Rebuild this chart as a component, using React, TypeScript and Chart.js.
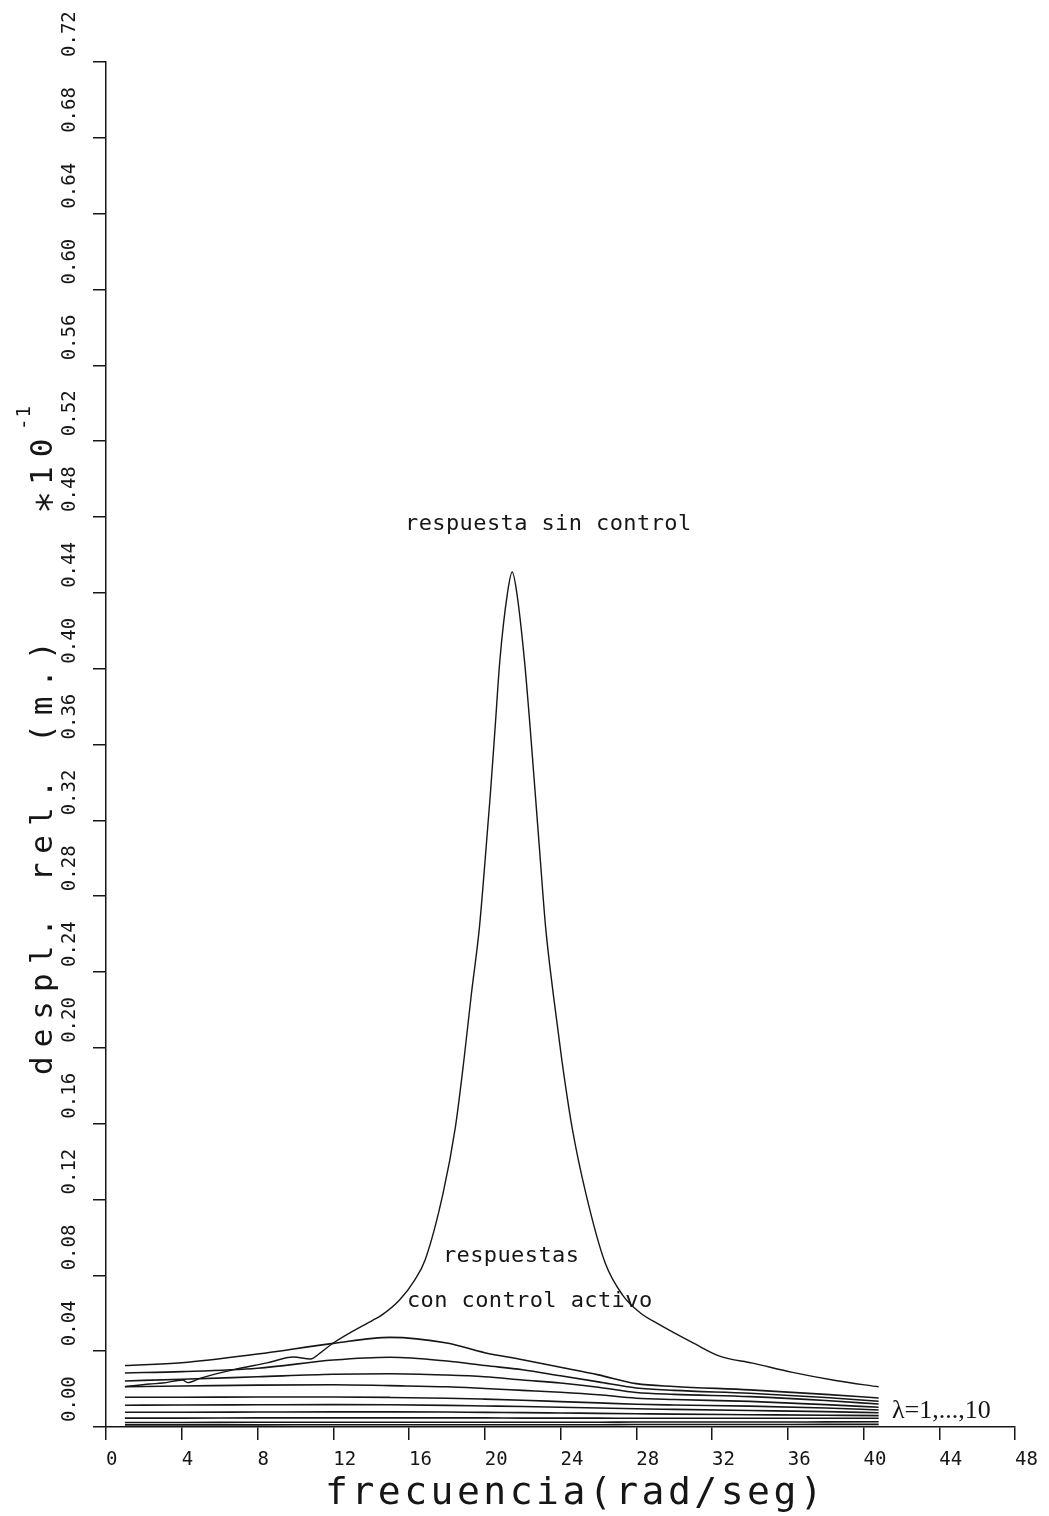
import { useEffect, useRef } from 'react';
import { Chart, registerables } from 'chart.js';

Chart.register(...registerables);

// Frequency response without control (rad/s vs relative displacement, x10^-1 m)
const freqSinControl = [
  1.0, 2.3, 3.0, 4.05, 4.3, 5.0, 6.7, 8.5, 9.9, 10.8, 11.3, 12.0, 14.1, 14.5, 15.5, 16.3,
  16.85, 17.8, 18.45, 18.9, 19.3, 19.72, 20.02, 20.3, 20.55, 20.8, 21.2, 21.45, 21.7, 22.1,
  22.4, 22.67, 22.94, 23.22, 23.62, 24.08, 24.62, 25.35, 26.35, 27.3, 28.2, 29.25, 31.0,
  32.4, 34.15, 36.25, 38.6, 40.8,
];
const despSinControl = [
  0.0213, 0.0227, 0.0232, 0.0248, 0.0234, 0.0258, 0.0301, 0.0338, 0.0369, 0.0359, 0.039,
  0.0443, 0.0564, 0.0586, 0.067, 0.0775, 0.0881, 0.1234, 0.1582, 0.1936, 0.2289, 0.2637,
  0.2991, 0.3344, 0.3692, 0.4046, 0.4399, 0.451, 0.4395, 0.404, 0.3685, 0.3337, 0.2984,
  0.263, 0.2282, 0.1929, 0.1575, 0.1227, 0.0868, 0.0693, 0.0603, 0.0539, 0.0444, 0.0374,
  0.0337, 0.0288, 0.0244, 0.0212,
];

// Responses with active control, one curve per weighting factor lambda = 1..10
const freqControl = [1, 4, 8, 12, 15, 18, 20, 22, 24, 26, 28, 30, 34, 38, 40.8];
const despLambda1 = [0.0324, 0.0339, 0.0385, 0.0441, 0.0473, 0.0443, 0.0392, 0.0355, 0.0315, 0.0275, 0.0229, 0.0214, 0.0196, 0.0172, 0.0153];
const despLambda2 = [0.0285, 0.0292, 0.031, 0.0353, 0.0368, 0.0348, 0.0324, 0.0302, 0.027, 0.0238, 0.0206, 0.0193, 0.0178, 0.0156, 0.0136];
const despLambda3 = [0.0243, 0.0252, 0.0265, 0.0278, 0.0281, 0.0274, 0.0265, 0.0248, 0.0232, 0.021, 0.0182, 0.0172, 0.016, 0.014, 0.0121];
const despLambda4 = [0.0213, 0.0216, 0.0221, 0.0223, 0.0218, 0.0212, 0.0203, 0.0193, 0.0183, 0.017, 0.0152, 0.0145, 0.0135, 0.0118, 0.0104];
const despLambda5 = [0.0157, 0.0157, 0.0158, 0.0158, 0.0156, 0.0152, 0.0147, 0.0141, 0.0134, 0.0127, 0.012, 0.0116, 0.011, 0.01, 0.009];
const despLambda6 = [0.0115, 0.0116, 0.0117, 0.0118, 0.0117, 0.0114, 0.0111, 0.0108, 0.0104, 0.01, 0.0096, 0.0093, 0.0087, 0.0081, 0.0075];
const despLambda7 = [0.0078, 0.0078, 0.0079, 0.008, 0.008, 0.0079, 0.0077, 0.0076, 0.0074, 0.0072, 0.007, 0.0068, 0.0065, 0.0062, 0.006];
const despLambda8 = [0.0047, 0.0047, 0.0048, 0.0048, 0.0048, 0.0048, 0.0048, 0.0047, 0.0047, 0.0047, 0.0046, 0.0046, 0.0046, 0.0046, 0.0046];
const despLambda9 = [0.0024, 0.0024, 0.0025, 0.0025, 0.0025, 0.0025, 0.0025, 0.0025, 0.0025, 0.0025, 0.0026, 0.0026, 0.0026, 0.0027, 0.0028];
const despLambda10 = [0.0011, 0.0011, 0.0011, 0.0012, 0.0012, 0.0012, 0.0012, 0.0012, 0.0012, 0.0012, 0.0013, 0.0013, 0.0013, 0.0014, 0.0014];

const controlledSeries = [
  despLambda1, despLambda2, despLambda3, despLambda4, despLambda5,
  despLambda6, despLambda7, despLambda8, despLambda9, despLambda10,
];

// Axis ranges and tick steps
const xRange = [0, 48];
const xStep = 4;
const yRange = [0, 0.72];
const yStep = 0.04;

// Text labels
const xTitle = 'frecuencia(rad/seg)';
const yTitle = 'despl. rel. (m.)';
const yTitleFactor = '10';
const yTitleExponent = '-1';
const labelSinControl = 'respuesta sin control';
const labelCon1 = 'respuestas';
const labelCon2 = 'con control activo';
const labelLambda = 'λ=1,...,10';

const INK = '#161616';
const MONO = '"DejaVu Sans Mono", "Liberation Mono", monospace';

const toPoints = (xs: number[], ys: number[]) => xs.map((x, i) => ({ x, y: ys[i] }));

const plotterText = {
  id: 'plotterText',
  afterDraw(chart: any) {
    const { ctx, scales } = chart;
    const xs = scales.x;
    const ys = scales.y;
    ctx.save();
    ctx.fillStyle = INK;

    // vertical tick labels on the y axis, reading upward
    ctx.font = `19px ${MONO}`;
    ctx.textAlign = 'left';
    ctx.textBaseline = 'middle';
    for (const t of ys.ticks) {
      const py = ys.getPixelForValue(t.value);
      ctx.save();
      ctx.translate(70, py - 5);
      ctx.rotate(-Math.PI / 2);
      ctx.fillText(Number(t.value).toFixed(2), 0, 0);
      ctx.restore();
    }

    // y axis title
    ctx.save();
    ctx.translate(52, 1075);
    ctx.rotate(-Math.PI / 2);
    ctx.textBaseline = 'alphabetic';
    ctx.font = `31px ${MONO}`;
    (ctx as any).letterSpacing = '9px';
    ctx.fillText(yTitle, 0, 0);
    ctx.fillText(yTitleFactor, 590, 0);
    (ctx as any).letterSpacing = '0px';
    ctx.font = `38px ${MONO}`;
    ctx.textAlign = 'center';
    ctx.fillText('∗', 573, 4);
    ctx.font = `19px ${MONO}`;
    ctx.textAlign = 'left';
    (ctx as any).letterSpacing = '1px';
    ctx.fillText(yTitleExponent, 645, -22);
    ctx.restore();

    // x axis title
    ctx.save();
    ctx.font = `38px ${MONO}`;
    (ctx as any).letterSpacing = '3.5px';
    ctx.textAlign = 'left';
    ctx.textBaseline = 'alphabetic';
    ctx.fillText(xTitle, 325, 1504);
    ctx.restore();

    // curve annotations
    ctx.save();
    ctx.font = `22px ${MONO}`;
    (ctx as any).letterSpacing = '0.4px';
    ctx.textAlign = 'left';
    ctx.textBaseline = 'alphabetic';
    ctx.fillText(labelSinControl, xs.getPixelForValue(15.79), ys.getPixelForValue(0.4731));
    ctx.fillText(labelCon1, xs.getPixelForValue(17.79), ys.getPixelForValue(0.087));
    ctx.fillText(labelCon2, xs.getPixelForValue(15.89), ys.getPixelForValue(0.0633));
    (ctx as any).letterSpacing = '0px';
    ctx.font = `26px "Liberation Serif", serif`;
    ctx.fillText(labelLambda, xs.getPixelForValue(41.5), ys.getPixelForValue(0.0047));
    ctx.restore();

    ctx.restore();
  },
};

export default function App() {
  const canvasRef = useRef<HTMLCanvasElement | null>(null);

  useEffect(() => {
    const canvas = canvasRef.current;
    if (!canvas) return;

    const datasets: any[] = controlledSeries.map((ys, i) => ({
      label: `λ=${i + 1}`,
      data: toPoints(freqControl, ys),
      borderColor: INK,
      borderWidth: 1.6,
      cubicInterpolationMode: 'monotone',
      pointRadius: 0,
    }));
    datasets.push({
      label: labelSinControl,
      data: toPoints(freqSinControl, despSinControl),
      borderColor: INK,
      borderWidth: 1.4,
      cubicInterpolationMode: 'monotone',
      pointRadius: 0,
    });

    const axisGrid = {
      color: INK,
      lineWidth: 1.5,
      drawOnChartArea: false,
      drawTicks: true,
      tickLength: 13,
    };
    const axisBorder = { display: true, color: INK, width: 1.5 };

    const chart = new Chart(canvas, {
      type: 'line',
      data: { datasets },
      options: {
        animation: false,
        responsive: false,
        devicePixelRatio: 1,
        layout: { padding: { top: 62, right: 34, left: 0, bottom: 0 } },
        plugins: {
          legend: { display: false },
          tooltip: { enabled: false },
        },
        scales: {
          x: {
            type: 'linear',
            min: xRange[0],
            max: xRange[1],
            grid: axisGrid,
            border: axisBorder,
            ticks: {
              stepSize: xStep,
              align: 'start',
              padding: 9,
              color: INK,
              font: { family: MONO, size: 19 },
              callback: (v: any) => String(v),
            },
            afterFit: (s: any) => {
              s.height = 89;
            },
          },
          y: {
            type: 'linear',
            min: yRange[0],
            max: yRange[1],
            grid: axisGrid,
            border: axisBorder,
            ticks: { stepSize: yStep, display: false },
            afterFit: (s: any) => {
              s.width = 106;
            },
          },
        },
      } as any,
      plugins: [plotterText],
    });

    return () => chart.destroy();
  }, []);

  return (
    <div style={{ position: 'absolute', left: 0, top: 0, width: 1049, height: 1516, background: '#fff' }}>
      <canvas ref={canvasRef} width={1049} height={1516} style={{ display: 'block' }} />
    </div>
  );
}
